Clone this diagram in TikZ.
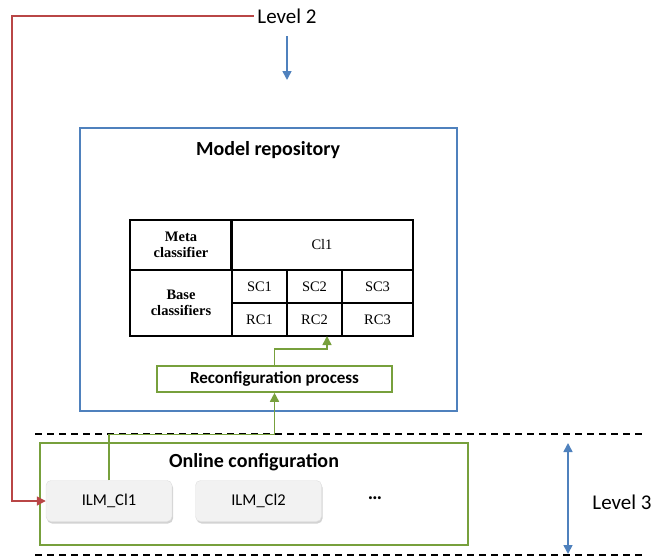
\documentclass[tikz,border=0pt]{standalone}
\usepackage{fontspec}
\setmainfont{Carlito}
\newfontfamily\tabfont{Liberation Serif}
\usepackage{tikz}
\usetikzlibrary{arrows.meta,shadows}
\definecolor{lvlblue}{RGB}{79,129,189}
\definecolor{cfggreen}{RGB}{119,160,60}
\definecolor{linkred}{RGB}{185,70,70}

\begin{document}
\begin{tikzpicture}[x=1pt, y=-1pt, >={Triangle[length=9pt,width=9pt]},
  lvl/.style={font=\fontsize{21}{24}\selectfont},
  title/.style={font=\fontsize{20}{23}\selectfont\bfseries},
  cell/.style={draw, line width=1.6pt, inner sep=0pt, outer sep=0pt, align=center, font=\tabfont\fontsize{14.5}{16}\selectfont},
  hcell/.style={cell, font=\tabfont\bfseries\fontsize{14.5}{16}\selectfont},
  ilm/.style={draw=gray!25, rounded corners=5pt, fill=gray!10, minimum width=126pt, minimum height=41pt, drop shadow={opacity=0.35, shadow xshift=1pt, shadow yshift=-2pt}, font=\fontsize{16.5}{19}\selectfont},
  gbox/.style={draw=cfggreen, line width=1.6pt},
  garrow/.style={->, cfggreen, line width=1.6pt},
  dashline/.style={dash pattern=on 7pt off 5pt, line width=1.3pt}]
\useasboundingbox (0,0) rectangle (655,557);
% TOP: level 2
\node[lvl] (lvl2) at (287,16) {Level 2};
\coordinate (l2a) at (287,36);
\coordinate (l2b) at (287,80);
\draw[->, lvlblue, line width=1.6pt] (l2a) -- (l2b);
% MIDDLE: model repository
\node[draw=lvlblue, line width=1.8pt, minimum width=377pt, minimum height=283pt] (repo) at (268.5,269.5) {};
\node[title] (repot) at (268,150) {Model repository};
\node[hcell, minimum width=102pt, minimum height=50pt] (meta) at (181,245) {Meta\\classifier};
\node[cell, minimum width=182pt, minimum height=50pt] (cl1) at (322,245) {Cl1};
\node[hcell, minimum width=102pt, minimum height=66pt] (base) at (181,303) {Base\\classifiers};
\node[cell, minimum width=55pt, minimum height=33pt] (sc1) at (259.5,286.5) {SC1};
\node[cell, minimum width=55pt, minimum height=33pt] (sc2) at (314.5,286.5) {SC2};
\node[cell, minimum width=71pt, minimum height=33pt] (sc3) at (377.5,286.5) {SC3};
\node[cell, minimum width=55pt, minimum height=33pt] (rc1) at (259.5,319.5) {RC1};
\node[cell, minimum width=55pt, minimum height=33pt] (rc2) at (314.5,319.5) {RC2};
\node[cell, minimum width=71pt, minimum height=33pt] (rc3) at (377.5,319.5) {RC3};
\node[gbox, minimum width=235pt, minimum height=26pt, font=\fontsize{17}{20}\selectfont\bfseries] (reconf) at (274.5,379) {Reconfiguration process};
\coordinate (rctip) at (327,336);
\draw[garrow] (reconf.north) -- ++(0,-16) -| (rctip);
% BOTTOM: level 3
\draw[dashline] (35,434) -- (645,434);
\draw[dashline] (35,555) -- (645,555);
\node[gbox, minimum width=428pt, minimum height=102pt] (online) at (254,494) {};
\node[title] (onlinet) at (254,462) {Online configuration};
\node[ilm] (ilm1) at (109,501) {ILM\_Cl1};
\node[ilm] (ilm2) at (258.5,501) {ILM\_Cl2};
\node[font=\fontsize{20}{22}\selectfont\bfseries] (dots) at (375,498) {…};
\draw[garrow] (ilm1.north) -- ++(0,-46) -| (reconf.south);
\coordinate (rcorner) at (12,480);
\draw[->, linkred, line width=1.6pt] (lvl2.west) -| (rcorner) |- (ilm1.west);
\coordinate (l3a) at (568,443);
\coordinate (l3b) at (568,554);
\draw[<->, lvlblue, line width=1.6pt] (l3a) -- (l3b);
\node[lvl] (lvl3) at (622,502) {Level 3};
\end{tikzpicture}
\end{document}
